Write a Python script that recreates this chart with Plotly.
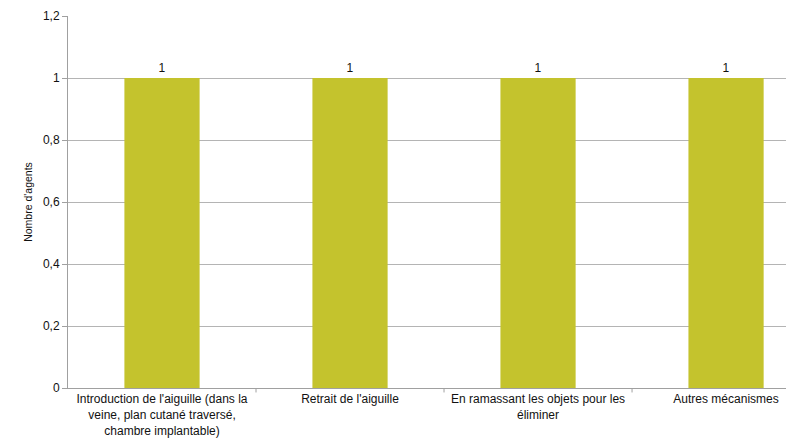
import plotly.graph_objects as go

categories = [
    "Introduction de l'aiguille (dans la<br>veine, plan cutané traversé,<br>chambre implantable)",
    "Retrait de l'aiguille",
    "En ramassant les objets pour les<br>éliminer",
    "Autres mécanismes",
]
values = [1, 1, 1, 1]
y_ticks = [0, 0.2, 0.4, 0.6, 0.8, 1, 1.2]

fig = go.Figure(
    go.Bar(
        x=list(range(len(categories))),
        y=values,
        width=0.4,
        marker=dict(color="#c4c32d", line=dict(width=0)),
        text=[str(v) for v in values],
        textposition="outside",
        textfont=dict(family="Liberation Sans, Arial, sans-serif", size=12, color="#111111"),
        cliponaxis=False,
    )
)

fig.update_layout(
    width=794,
    height=440,
    margin=dict(l=60, r=0, t=8, b=60, autoexpand=False),
    plot_bgcolor="white",
    paper_bgcolor="white",
    separators=", ",
    showlegend=False,
    font=dict(family="Liberation Sans, Arial, sans-serif", size=12, color="#111111"),
)

fig.update_xaxes(
    tickmode="array",
    tickvals=list(range(len(categories))),
    ticktext=categories,
    range=[-0.5, 3.404],
    tickangle=0,
    automargin=False,
    showline=True,
    linecolor="#a0a0a0",
    linewidth=1,
    ticks="",
    showgrid=False,
    tickfont=dict(size=12, color="#111111"),
)

fig.update_yaxes(
    range=[0, 1.2],
    tickvals=y_ticks,
    automargin=False,
    showline=True,
    linecolor="#a0a0a0",
    linewidth=1,
    ticks="outside",
    ticklen=5,
    tickcolor="#a0a0a0",
    showgrid=True,
    gridcolor="#b4b4b4",
    gridwidth=1,
    zeroline=False,
    tickfont=dict(size=12, color="#111111"),
    title=dict(text="Nombre d'agents", font=dict(size=10.5, color="#111111"), standoff=8),
)

# separator tick marks between categories on the x axis
for b in [0.5, 1.5, 2.5]:
    fig.add_shape(type="line", xref="x", yref="paper", x0=b, x1=b, y0=0, y1=-0.012,
                  line=dict(color="#a0a0a0", width=1))

fig.write_html("out.html")
